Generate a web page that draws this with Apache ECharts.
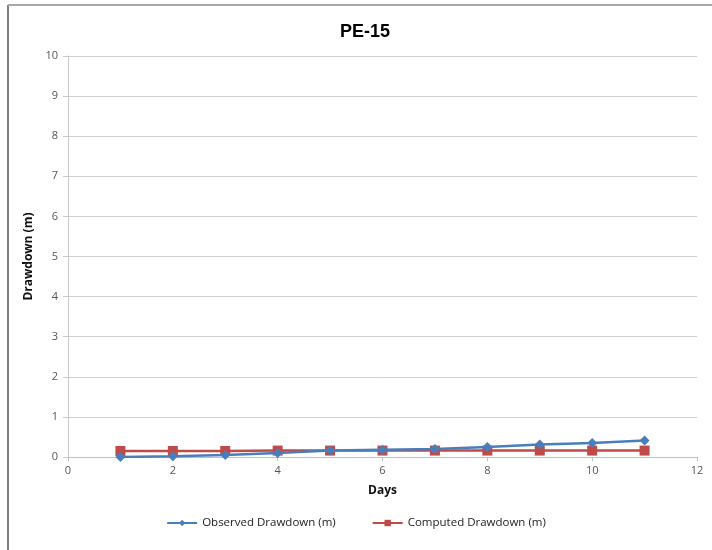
<!DOCTYPE html>
<html>
<head>
<meta charset="utf-8">
<script src="https://cdn.jsdelivr.net/npm/echarts@6/dist/echarts.min.js"></script>
<style>html,body{margin:0;padding:0;background:#fff}#c{width:712px;height:550px}</style>
</head>
<body>
<div id="c"></div>
<script>
var days = [1, 2, 3, 4, 5, 6, 7, 8, 9, 10, 11];
var observed = [0.0, 0.02, 0.05, 0.10, 0.16, 0.18, 0.20, 0.25, 0.31, 0.35, 0.41];
var computed = [0.15, 0.15, 0.15, 0.16, 0.16, 0.16, 0.16, 0.16, 0.16, 0.16, 0.16];
var seriesNames = ['Observed Drawdown (m)', 'Computed Drawdown (m)'];
var titleText = 'PE-15';

function pairs(xs, ys) { return xs.map(function (x, i) { return [x, ys[i]]; }); }

var chart = echarts.init(document.getElementById('c'), null, { renderer: 'canvas' });
chart.setOption({
  animation: false,
  backgroundColor: '#fff',
  textStyle: { fontFamily: 'Liberation Sans' },
  title: {
    text: titleText, left: 335, top: 18,
    textStyle: { fontSize: 18, fontWeight: 'bold', color: '#000', fontFamily: 'Liberation Sans' }
  },
  graphic: [
    { type: 'line', shape: { x1: 8, y1: 5, x2: 8, y2: 550 }, style: { stroke: '#808080', lineWidth: 2 } },
    { type: 'line', shape: { x1: 8, y1: 5, x2: 712, y2: 5 }, style: { stroke: '#a8a8a8', lineWidth: 2 } }
  ],
  grid: { left: 68, right: 15, top: 56, bottom: 93, containLabel: false },
  legend: {
    bottom: 16, left: 'center', itemGap: 36, itemWidth: 30, itemHeight: 8,
    textStyle: { fontSize: 11.5, color: '#222', fontFamily: 'Open Sans' },
    data: seriesNames
  },
  xAxis: {
    type: 'value', min: 0, max: 12, interval: 2,
    name: 'Days', nameLocation: 'middle', nameGap: 28,
    nameTextStyle: { fontSize: 12, fontWeight: 'bold', color: '#111', fontFamily: 'Open Sans' },
    axisLine: { lineStyle: { color: '#bfbfbf', width: 1 } },
    axisTick: { show: true, inside: false, length: 4, lineStyle: { color: '#bfbfbf' } },
    axisLabel: { fontSize: 11, color: '#555', margin: 8, fontFamily: 'Open Sans' },
    splitLine: { show: false }
  },
  yAxis: {
    type: 'value', min: 0, max: 10, interval: 1,
    name: 'Drawdown (m)', nameLocation: 'middle', nameGap: 32, nameRotate: 90,
    nameTextStyle: { fontSize: 12, fontWeight: 'bold', color: '#111', fontFamily: 'Open Sans' },
    axisLine: { show: true, lineStyle: { color: '#c8c8c8', width: 1 } },
    axisTick: { show: true, inside: false, length: 5, lineStyle: { color: '#c8c8c8' } },
    axisLabel: { fontSize: 11, color: '#555', margin: 10, fontFamily: 'Open Sans' },
    splitLine: { show: true, lineStyle: { color: '#d0d0d0', width: 1 } }
  },
  series: [
    {
      name: seriesNames[0], type: 'line', data: pairs(days, observed),
      symbol: 'diamond', symbolSize: 10,
      lineStyle: { color: '#4a7ebb', width: 2.5 },
      itemStyle: { color: '#4a7ebb' }, z: 3
    },
    {
      name: seriesNames[1], type: 'line', data: pairs(days, computed),
      symbol: 'rect', symbolSize: 10,
      lineStyle: { color: '#be4b48', width: 2.5 },
      itemStyle: { color: '#be4b48' }, z: 2
    }
  ]
});
</script>
</body>
</html>
